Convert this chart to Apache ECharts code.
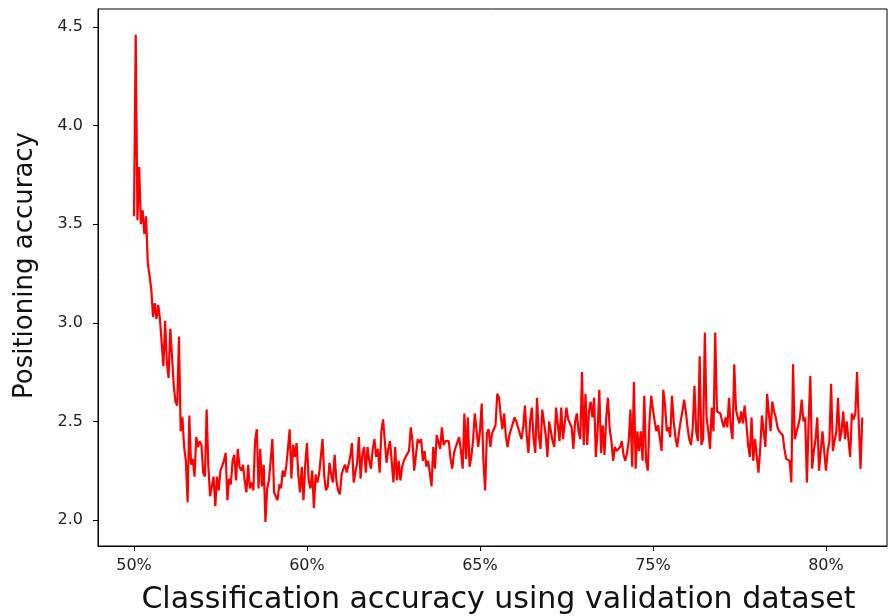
<!DOCTYPE html>
<html>
<head>
<meta charset="utf-8">
<script src="https://cdn.jsdelivr.net/npm/echarts@6/dist/echarts.min.js"></script>
<style>
html,body{margin:0;padding:0;background:#fff;}
#chart{width:889px;height:616px;}
</style>
</head>
<body>
<div id="chart"></div>
<script>
// Tick positions (index along the run) and their labels
const xTickValues = [0, 100, 200, 300, 400];
const xTickLabels = ['50%', '60%', '65%', '75%', '80%'];
const yTickValues = [2.0, 2.5, 3.0, 3.5, 4.0, 4.5];

// Positioning accuracy values, one per step
const positioningAccuracy = [
 3.54,4.46,3.52,3.79,3.50,3.57,3.45,3.54,3.30,3.24,
 3.17,3.03,3.10,3.02,3.09,3.02,3.03,2.78,3.01,2.80,
 2.72,2.97,2.83,2.68,2.60,2.58,2.93,2.45,2.52,2.37,
 2.30,2.09,2.53,2.28,2.31,2.22,2.42,2.37,2.40,2.38,
 2.24,2.22,2.56,2.27,2.12,2.11,2.22,2.07,2.22,2.15,
 2.25,2.24,2.30,2.34,2.10,2.21,2.18,2.30,2.33,2.20,
 2.36,2.27,2.25,2.28,2.20,2.14,2.28,2.16,2.19,2.15,
 2.40,2.46,2.16,2.36,2.17,2.28,1.99,2.16,2.20,2.30,
 2.41,2.14,2.12,2.10,2.18,2.16,2.25,2.22,2.27,2.36,
 2.46,2.21,2.38,2.32,2.39,2.23,2.14,2.27,2.10,2.28,
 2.39,2.20,2.16,2.25,2.06,2.23,2.19,2.23,2.32,2.41,
 2.22,2.15,2.17,2.29,2.23,2.19,2.33,2.20,2.15,2.13,
 2.23,2.26,2.28,2.24,2.23,2.32,2.39,2.19,2.24,2.29,
 2.42,2.21,2.33,2.37,2.24,2.37,2.30,2.26,2.36,2.41,
 2.32,2.36,2.24,2.45,2.51,2.40,2.29,2.36,2.40,2.41,
 2.19,2.37,2.20,2.30,2.20,2.27,2.30,2.32,2.33,2.35,
 2.47,2.40,2.25,2.25,2.41,2.39,2.41,2.30,2.35,2.27,
 2.30,2.24,2.17,2.37,2.26,2.43,2.43,2.36,2.47,2.38,
 2.40,2.41,2.40,2.31,2.26,2.34,2.37,2.38,2.42,2.35,
 2.26,2.54,2.31,2.52,2.27,2.32,2.40,2.54,2.46,2.37,
 2.45,2.59,2.30,2.15,2.44,2.46,2.37,2.44,2.46,2.48,
 2.64,2.62,2.53,2.46,2.54,2.42,2.37,2.43,2.46,2.45,
 2.52,2.50,2.47,2.44,2.41,2.47,2.58,2.43,2.34,2.50,
 2.57,2.41,2.34,2.62,2.43,2.36,2.56,2.55,2.43,2.32,
 2.50,2.45,2.40,2.37,2.57,2.56,2.40,2.57,2.41,2.41,
 2.57,2.51,2.52,2.47,2.36,2.50,2.54,2.45,2.41,2.75,
 2.38,2.64,2.38,2.55,2.60,2.52,2.62,2.32,2.45,2.66,
 2.34,2.48,2.33,2.52,2.62,2.46,2.40,2.30,2.37,2.35,
 2.35,2.37,2.40,2.33,2.30,2.34,2.40,2.56,2.27,2.70,
 2.26,2.45,2.35,2.45,2.30,2.63,2.30,2.25,2.50,2.63,
 2.56,2.50,2.45,2.48,2.47,2.35,2.66,2.58,2.45,2.47,
 2.42,2.63,2.50,2.42,2.37,2.44,2.50,2.55,2.61,2.55,
 2.47,2.41,2.38,2.47,2.68,2.45,2.40,2.83,2.38,2.41,
 2.95,2.52,2.45,2.36,2.57,2.45,2.95,2.55,2.56,2.54,
 2.50,2.47,2.52,2.47,2.62,2.47,2.41,2.79,2.56,2.52,
 2.49,2.55,2.49,2.58,2.49,2.38,2.32,2.52,2.30,2.41,
 2.40,2.24,2.36,2.53,2.54,2.37,2.64,2.54,2.45,2.60,
 2.55,2.52,2.47,2.45,2.44,2.43,2.36,2.31,2.32,2.30,
 2.19,2.79,2.41,2.42,2.48,2.52,2.61,2.50,2.52,2.19,
 2.50,2.73,2.26,2.35,2.41,2.52,2.25,2.35,2.45,2.45,
 2.25,2.35,2.40,2.69,2.35,2.40,2.45,2.62,2.40,2.45,
 2.55,2.41,2.50,2.49,2.32,2.54,2.51,2.54,2.75,2.49,2.26,2.52
];

const xAxisTitle = 'Classification accuracy using validation dataset';
const yAxisTitle = 'Positioning accuracy';

const seriesData = positioningAccuracy.map((v, i) => [i, v]);

const chart = echarts.init(document.getElementById('chart'), null, {renderer: 'canvas'});
const font = 'DejaVu Sans';
chart.setOption({
  animation: false,
  backgroundColor: '#ffffff',
  grid: {
    left: 98, top: 9, width: 789, height: 537,
    outerBoundsMode: 'none', containLabel: false,
    show: true, borderColor: '#000', borderWidth: 1, backgroundColor: 'transparent'
  },
  xAxis: {
    type: 'value',
    min: -20.8,
    max: 435.3,
    name: xAxisTitle,
    nameLocation: 'middle',
    nameGap: 39,
    nameTextStyle: {fontFamily: font, fontSize: 30, color: '#111', padding: [0, 0, 0, 12]},
    axisLine: {show: true, onZero: false, lineStyle: {color: '#000', width: 1}},
    axisTick: {show: true, inside: false, length: 5, lineStyle: {color: '#000'}, customValues: xTickValues},
    axisLabel: {
      fontFamily: font, fontSize: 16, color: '#222', margin: 12,
      customValues: xTickValues,
      formatter: function (v) { const k = xTickValues.indexOf(Math.round(v)); return k >= 0 ? xTickLabels[k] : ''; }
    },
    splitLine: {show: false}
  },
  yAxis: {
    type: 'value',
    min: 1.868,
    max: 4.591,
    name: yAxisTitle,
    nameLocation: 'middle',
    nameGap: 60,
    nameRotate: 90,
    nameTextStyle: {fontFamily: font, fontSize: 26, color: '#111', padding: [0, 0, 0, 24]},
    axisLine: {show: true, onZero: false, lineStyle: {color: '#000', width: 1}},
    axisTick: {show: true, inside: false, length: 5, lineStyle: {color: '#000'}, customValues: yTickValues},
    axisLabel: {
      fontFamily: font, fontSize: 16, color: '#222', margin: 15,
      customValues: yTickValues,
      formatter: function (v) { return v.toFixed(1); }
    },
    splitLine: {show: false}
  },
  series: [{
    type: 'line',
    data: seriesData,
    showSymbol: false,
    symbol: 'none',
    lineStyle: {color: '#ff0000', width: 2.2},
    itemStyle: {color: '#ff0000'},
    clip: true
  }]
});
</script>
</body>
</html>
